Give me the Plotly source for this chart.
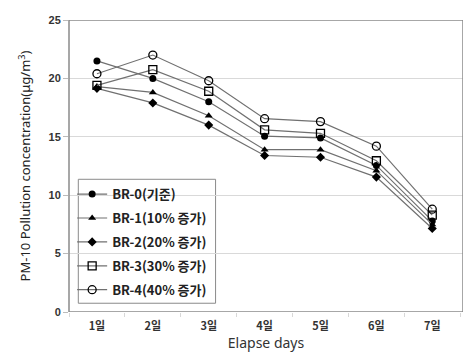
import plotly.graph_objects as go

days = ["1일", "2일", "3일", "4일", "5일", "6일", "7일"]
series_names = ["BR-0(기준)", "BR-1(10% 증가)", "BR-2(20% 증가)", "BR-3(30% 증가)", "BR-4(40% 증가)"]
br0 = [21.5, 20.0, 18.0, 15.05, 14.9, 12.55, 7.8]
br1 = [19.3, 18.8, 16.8, 13.9, 13.9, 12.1, 7.5]
br2 = [19.15, 17.9, 16.0, 13.4, 13.25, 11.55, 7.15]
br3 = [19.4, 20.75, 18.9, 15.6, 15.3, 12.95, 8.3]
br4 = [20.4, 22.0, 19.8, 16.55, 16.3, 14.2, 8.8]
y_ticks = [0, 5, 10, 15, 20, 25]

series = [br0, br1, br2, br3, br4]
markers = [
    dict(symbol="circle", size=7, color="black"),
    dict(symbol="triangle-up", size=7, color="black"),
    dict(symbol="diamond", size=7, color="black"),
    dict(symbol="square-open", size=8, color="black", line=dict(width=1.3)),
    dict(symbol="circle-open", size=8, color="black", line=dict(width=1.3)),
]

fig = go.Figure()
for i, (name, vals, mk) in enumerate(zip(series_names, series, markers)):
    fig.add_trace(go.Scatter(
        x=days, y=vals, name=name, mode="lines+markers", legendgroup=f"g{i}",
        line=dict(color="#707070", width=1.2),
        marker=mk,
    ))

# legend box
fig.add_shape(type="rect", xref="paper", yref="paper", x0=0.0236, x1=0.372, y0=0.030, y1=0.4545,
              line=dict(color="#8a8a8a", width=1), fillcolor="white", layer="below")
# plot frame
fig.add_shape(type="rect", xref="paper", yref="y", x0=0, x1=1, y0=0, y1=25,
              line=dict(color="#8a8a8a", width=1.5), layer="above")

fig.update_layout(
    width=463, height=359,
    margin=dict(l=69, r=0, t=20, b=47),
    paper_bgcolor="white", plot_bgcolor="white",
    font=dict(family="Liberation Sans, Noto Sans CJK KR, sans-serif", color="#333333"),
    showlegend=True,
    legend=dict(
        x=0.008, y=0.455, xanchor="left", yanchor="top",
        borderwidth=0, bgcolor="rgba(0,0,0,0)",
        font=dict(size=13, color="#222222", family="Noto Sans CJK KR, sans-serif", weight="bold"),
        itemwidth=30, tracegroupgap=4,
    ),
    xaxis=dict(
        type="category", categoryorder="array", categoryarray=days,
        range=[-0.5, 6.55], showgrid=False, zeroline=False,
        showline=False, ticks="outside", tickson="boundaries",
        ticklen=4, tickcolor="#d8d8d8", ticklabelstandoff=6,
        tickfont=dict(size=11, color="#333333", family="Noto Sans CJK KR, sans-serif", weight="bold"),
        title=dict(text="Elapse days", font=dict(size=14, color="#333333", family="Noto Sans, sans-serif"), standoff=2),
    ),
    yaxis=dict(
        range=[0, 25], tickvals=y_ticks, showgrid=True, gridcolor="#d9d9d9",
        gridwidth=1, zeroline=False, showline=False,
        ticks="outside", ticklen=5, tickcolor="#bbbbbb",
        tickfont=dict(size=11, color="#333333", family="Liberation Sans, sans-serif", weight="bold"),
        title=dict(text="PM-10 Pollution concentration(μg/m<sup>3</sup>)",
                   font=dict(size=13, color="#222222", family="Noto Sans, sans-serif"), standoff=14),
    ),
)

fig.write_html("out.html")
